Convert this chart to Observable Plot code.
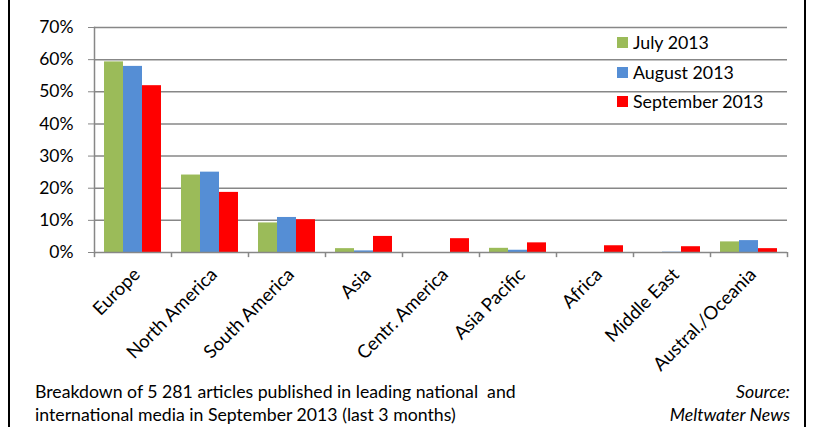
<!DOCTYPE html>
<html><head><meta charset="utf-8">
<script src="https://cdn.jsdelivr.net/npm/d3@7"></script>
<script src="https://cdn.jsdelivr.net/npm/@observablehq/plot@0.6"></script>
<style>
body{margin:0;background:#fff;}
#wrap{position:relative;width:817px;height:427px;overflow:hidden;font-family:Lato,"Open Sans",sans-serif;color:#000;}
.vb{position:absolute;top:0;bottom:0;width:0;border-left:2px solid #000;}
#legend{position:absolute;left:617px;top:28px;font-size:17.8px;line-height:29.5px;}
#legend .row{display:flex;align-items:center;}
#legend .sw{width:11px;height:11px;margin-right:5px;}
.cap{position:absolute;font-size:17.7px;line-height:23px;}
</style></head>
<body><div id="wrap"></div>
<script>
const regions = ["Europe","North America","South America","Asia","Centr. America","Asia Pacific","Africa","Middle East","Austral./Oceania"];
const series = ["July 2013","August 2013","September 2013"];
const july      = [59.3, 24.1,  9.2, 1.2, 0,   1.3, 0,   0,   3.3];
const august    = [57.9, 25.0, 10.9, 0.5, 0,   0.7, 0,   0.1, 3.7];
const september = [51.9, 18.7, 10.2, 5.0, 4.3, 3.0, 2.1, 1.8, 1.2];
const colors = ["#9BBB59","#558ED5","#FF0000"];
const yTicks = [0,10,20,30,40,50,60,70];
const captionLeft = ["Breakdown of 5 281 articles published in leading national  and","international media in September 2013 (last 3 months)"];
const captionRight = ["Source:","Meltwater News"];

const values = [july, august, september];
const W = 817, H = 380, mL = 94, mR = 30, mT = 27, mB = 128;
const step = (W - mL - mR) / regions.length;
const gap = step * 0.13, bw = (step - 2 * gap) / 3;

const marks = [
  Plot.ruleY(yTicks.slice(1), {y: d => d, stroke: "#878787", strokeWidth: 1.5}),
];
series.forEach((s, k) => {
  const data = regions.map((r, i) => ({region: r, value: values[k][i]}));
  marks.push(Plot.barY(data, {x: "region", y: "value", fill: colors[k],
    insetLeft: gap + k * bw, insetRight: step - gap - (k + 1) * bw}));
});
marks.push(
  Plot.ruleY([0], {stroke: "#878787", strokeWidth: 1.5}),
  Plot.ruleX(regions, {x: d => d, y1: 0, y2: -1.6, stroke: "#878787", strokeWidth: 1.5, dx: -step / 2}),
  Plot.ruleX([regions[regions.length - 1]], {x: d => d, y1: 0, y2: -1.6, stroke: "#878787", strokeWidth: 1.5, dx: step / 2}),
  Plot.frame({anchor: "left", stroke: "#878787", strokeWidth: 1.5}),
  Plot.axisY({ticks: yTicks, tickFormat: d => d + "%", tickSize: 6, tickPadding: 15, stroke: "#878787", fill: "#000", fontSize: 17.5, label: null}),
  Plot.axisX({tickRotate: -45, tickSize: 0, tickPadding: 19, dx: 4, fill: "#000", fontSize: 18.5, label: null})
);

const chart = Plot.plot({
  width: W, height: H, marginLeft: mL, marginRight: mR, marginTop: mT, marginBottom: mB,
  style: {fontFamily: "Lato, 'Open Sans', sans-serif", background: "transparent", overflow: "visible"},
  x: {type: "band", domain: regions, padding: 0},
  y: {domain: [0, 70]},
  marks
});
const wrap = document.getElementById("wrap");
chart.style.position = "absolute"; chart.style.left = "0"; chart.style.top = "0";
wrap.appendChild(chart);

const legend = document.createElement("div");
legend.id = "legend";
series.forEach((s, k) => {
  const row = document.createElement("div"); row.className = "row";
  const sw = document.createElement("span"); sw.className = "sw"; sw.style.background = colors[k];
  const t = document.createElement("span"); t.textContent = s;
  row.append(sw, t); legend.appendChild(row);
});
wrap.appendChild(legend);

const cl = document.createElement("div"); cl.className = "cap";
cl.style.left = "35px"; cl.style.top = "380px";
cl.innerHTML = captionLeft.map(t => t.replace(/ {2}/g, " &nbsp;")).join("<br>");
wrap.appendChild(cl);
const cr = document.createElement("div"); cr.className = "cap";
cr.style.right = "27px"; cr.style.top = "380px"; cr.style.textAlign = "right"; cr.style.fontStyle = "italic";
cr.innerHTML = captionRight.join("<br>");
wrap.appendChild(cr);

[9, 805].forEach(x => { const b = document.createElement("div"); b.className = "vb"; b.style.left = (x - 1) + "px"; wrap.appendChild(b); });
</script></body></html>
